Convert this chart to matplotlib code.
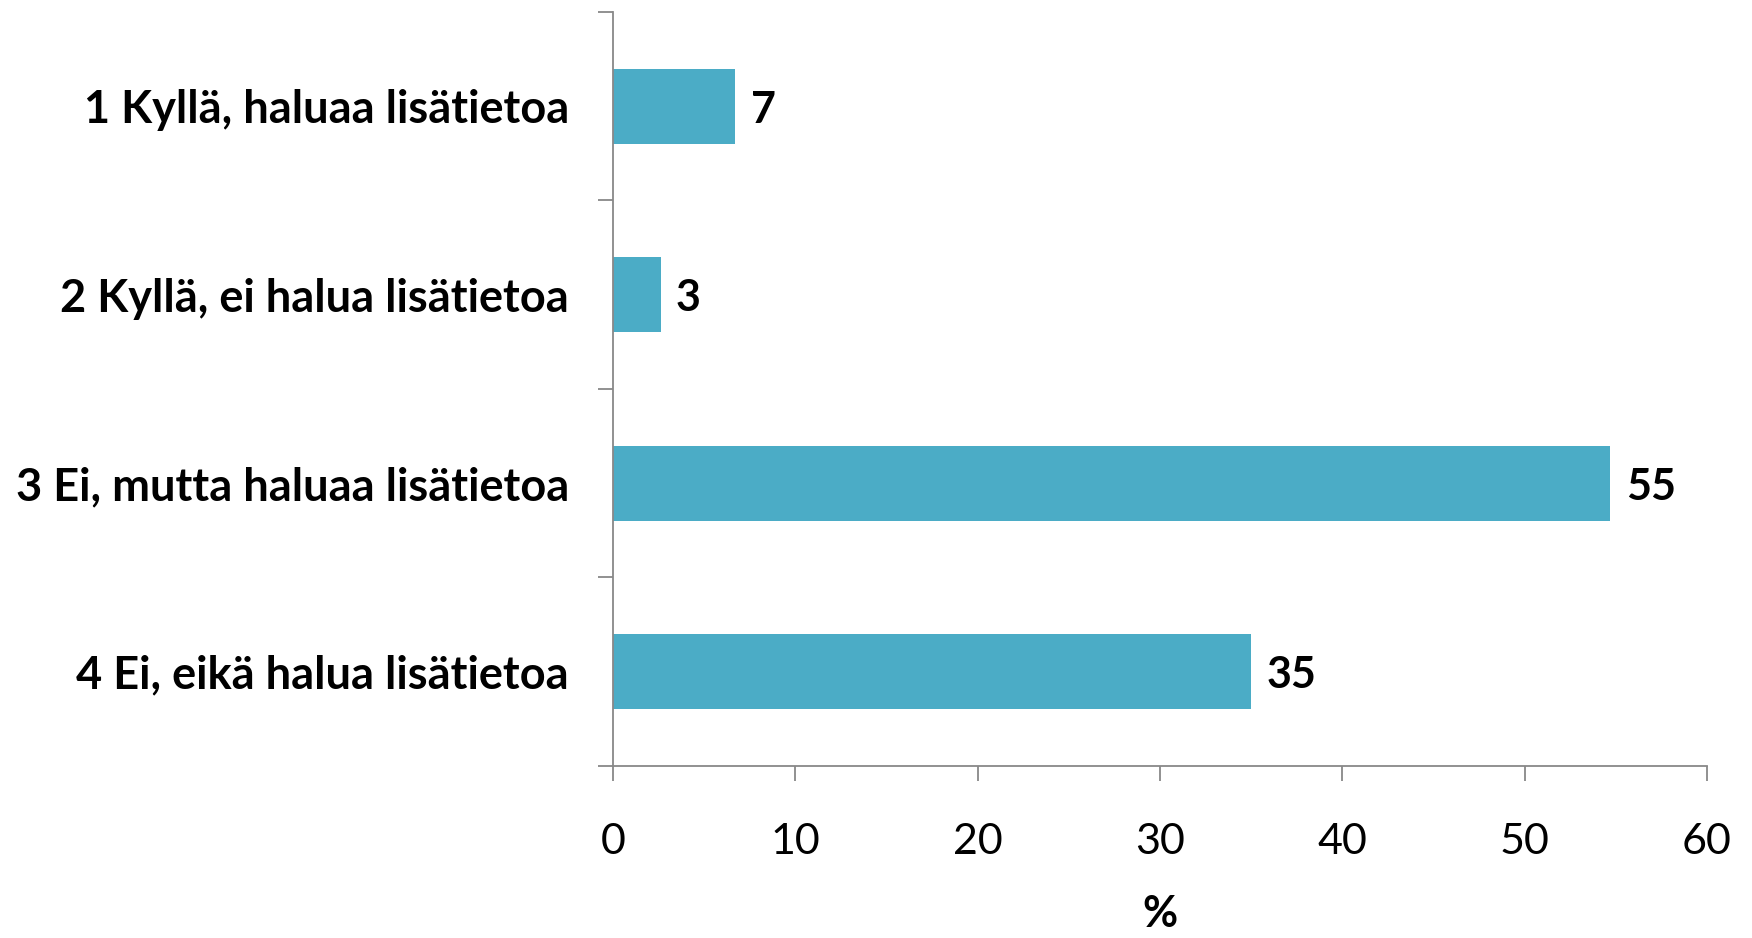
import matplotlib
matplotlib.use("Agg")
import numpy as np
import matplotlib.pyplot as plt

# -----------------------------
# Data
# -----------------------------
categories = [
    "1 Kyllä, haluaa lisätietoa",
    "2 Kyllä, ei halua lisätietoa",
    "3 Ei, mutta haluaa lisätietoa",
    "4 Ei, eikä halua lisätietoa",
]
values = [6.7, 2.6, 54.7, 35.0]
value_labels = ["7", "3", "55", "35"]
x_ticks = [0, 10, 20, 30, 40, 50, 60]

bar_color = "#4BACC6"
axis_color = "#888888"

plt.rcParams["font.family"] = ["Lato", "DejaVu Sans"]

# -----------------------------
# Plot
# -----------------------------
fig = plt.figure(figsize=(17.52, 9.38), dpi=100)
ax = fig.add_axes([0.35, 0.1834, 0.6243, 0.8038])

y = np.arange(len(categories))
ax.barh(y, values, height=0.4, color=bar_color)

for yi, v, lab in zip(y, values, value_labels):
    ax.text(v + 0.85, yi, lab, va="center_baseline", ha="left",
            fontsize=31, fontweight="bold", color="black")

ax.set_xlim(0, 60)
ax.set_ylim(len(categories) - 0.5, -0.5)
ax.set_xticks(x_ticks)
ax.set_xticklabels([str(t) for t in x_ticks], fontsize=31)
ax.set_yticks(y)
ax.set_yticklabels(categories, fontsize=32.5, fontweight="bold")
ax.set_yticks(np.arange(-0.5, len(categories), 1.0), minor=True)

ax.tick_params(axis="y", which="major", length=0, pad=32)
ax.tick_params(axis="y", which="minor", length=11, width=1.3,
               color=axis_color, direction="out")
ax.tick_params(axis="x", which="major", length=11, width=1.3,
               color=axis_color, direction="out", pad=30)

for side in ["top", "right"]:
    ax.spines[side].set_visible(False)
for side in ["left", "bottom"]:
    ax.spines[side].set_color(axis_color)
    ax.spines[side].set_linewidth(1.3)

ax.set_xlabel("%", fontsize=31, fontweight="bold", labelpad=24)

plt.savefig("out.png", dpi=100)
